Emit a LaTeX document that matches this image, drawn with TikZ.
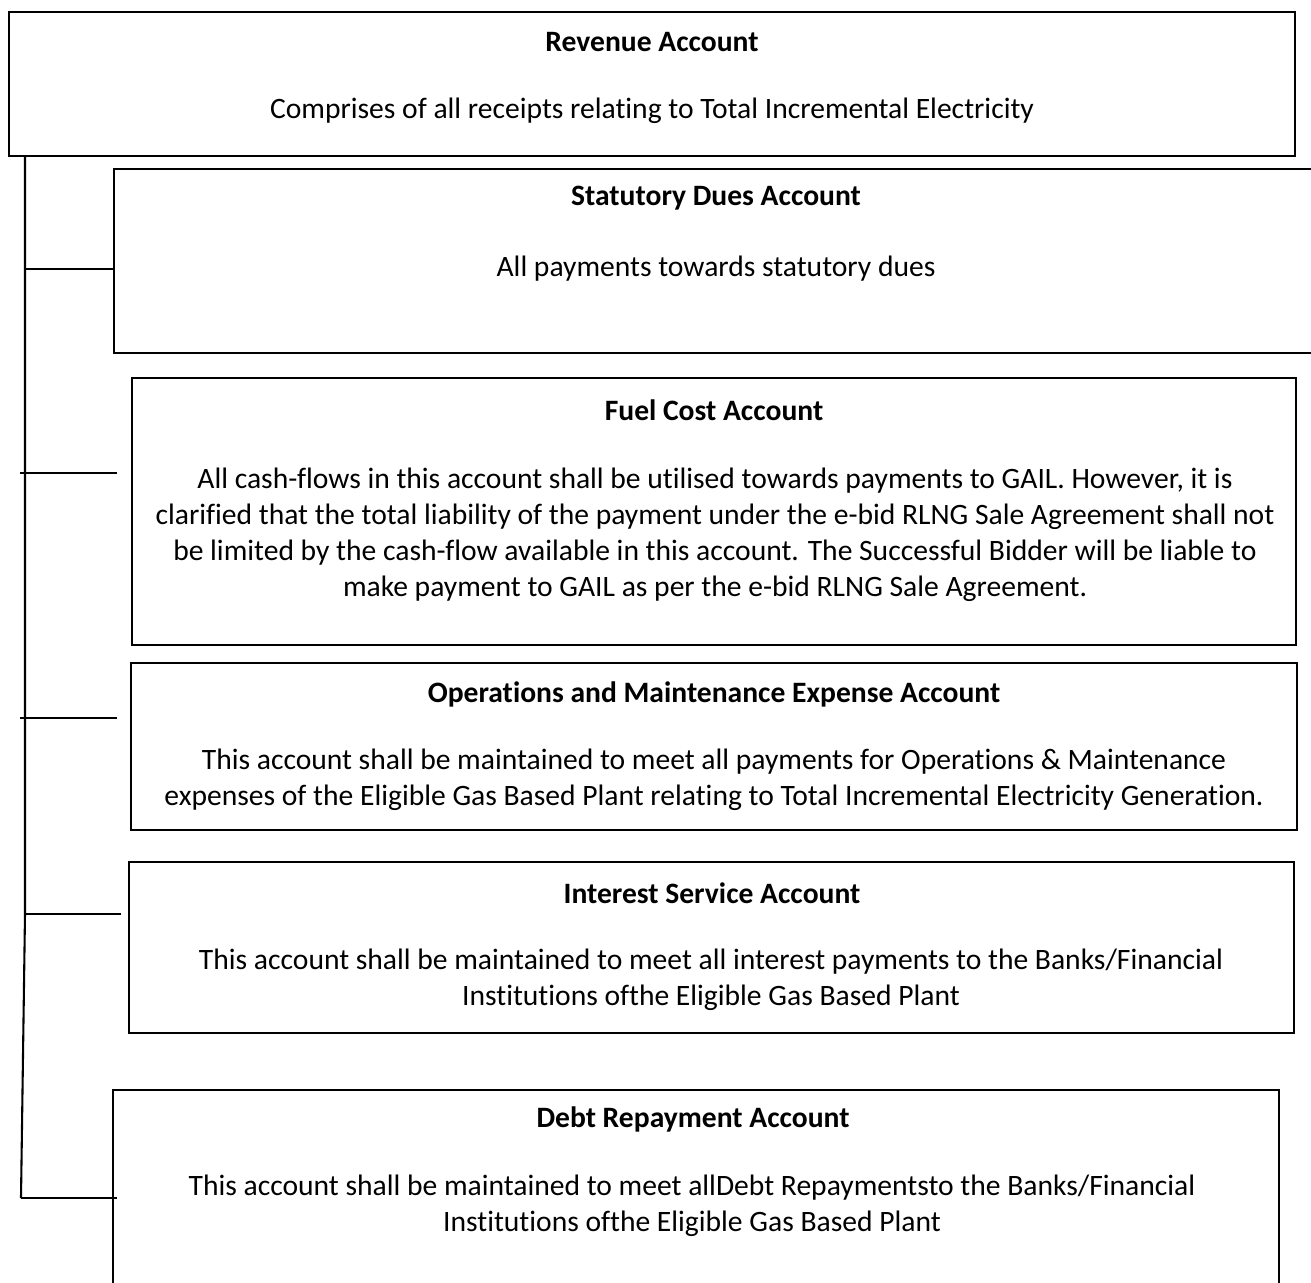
\documentclass[tikz,border=0pt]{standalone}
\usepackage{fontspec}
\setmainfont{Carlito}[Ligatures=NoCommon]
\begin{document}
\begin{tikzpicture}[x=0.48pt,y=-0.48pt,
  boxline/.style={draw=black,line width=1pt},
  link/.style={draw=black,line width=1pt},
  title/.style={font=\fontsize{14.2}{17.28}\selectfont\bfseries,inner sep=0pt},
  desc/.style={font=\fontsize{14.2}{17.28}\selectfont,align=center,inner sep=0pt}]

\useasboundingbox (0,0) rectangle (1311,1283);
\clip (0,0) rectangle (1311,1283);

% -------- Revenue Account --------
\draw[boxline,line width=1.4pt] (9,12) rectangle (1295,156);
\node[title] (rev-t) at (652,42)  {Revenue Account};
\node[desc]  (rev-d) at (652,111) {Comprises of all receipts relating to Total Incremental Electricity};

% -------- Statutory Dues Account --------
\draw[boxline] (114,169) rectangle (1340,353);
\node[title] (stat-t) at (716,198) {Statutory Dues Account};
\node[desc]  (stat-d) at (716,269) {All payments towards statutory dues};

% -------- Fuel Cost Account --------
\draw[boxline] (132,378) rectangle (1296,645);
\node[title] (fuel-t) at (714,410) {Fuel Cost Account};
\node[desc]  (fuel-d) at (715,535) {All cash-flows in this account shall be utilised towards payments to GAIL. However, it is\\
  clarified that the total liability of the payment under the e-bid RLNG Sale Agreement shall not\\
  be limited by the cash-flow available in this account. The Successful Bidder will be liable to\\
  make payment to GAIL as per the e-bid RLNG Sale Agreement.};

% -------- O&M Expense Account --------
\draw[boxline] (131,663) rectangle (1297,830);
\node[title] (om-t) at (714,694) {Operations and Maintenance Expense Account};
\node[desc]  (om-d) at (714,780) {This account shall be maintained to meet all payments for Operations \& Maintenance\\
  expenses of the Eligible Gas Based Plant relating to Total Incremental Electricity Generation.};

% -------- Interest Service Account --------
\draw[boxline] (129,862) rectangle (1294,1033);
\node[title] (int-t) at (712,893) {Interest Service Account};
\node[desc]  (int-d) at (711,980) {This account shall be maintained to meet all interest payments to the Banks/Financial\\
  Institutions ofthe Eligible Gas Based Plant};

% -------- Debt Repayment Account --------
\draw[boxline] (113,1090) rectangle (1279,1330);
\node[title] (debt-t) at (693,1119) {Debt Repayment Account};
\node[desc]  (debt-d) at (692,1206) {This account shall be maintained to meet allDebt Repaymentsto the Banks/Financial\\
  Institutions ofthe Eligible Gas Based Plant};

% ---- Spine and branches ----
\coordinate (spine-top) at (25,156);
\coordinate (spine-bot) at (21,1198);
\draw[link] (spine-top) -- (25,914) -- (spine-bot);

\foreach \name/\y/\xa/\xb in {stat/269/25/114, fuel/473/20/117, om/718/20/117, int/914/25/121, debt/1198/21/117}{
  \coordinate (\name-a) at (\xa,\y);
  \coordinate (\name-b) at (\xb,\y);
  \draw[link] (\name-a) -- (\name-b);
}

\end{tikzpicture}
\end{document}
